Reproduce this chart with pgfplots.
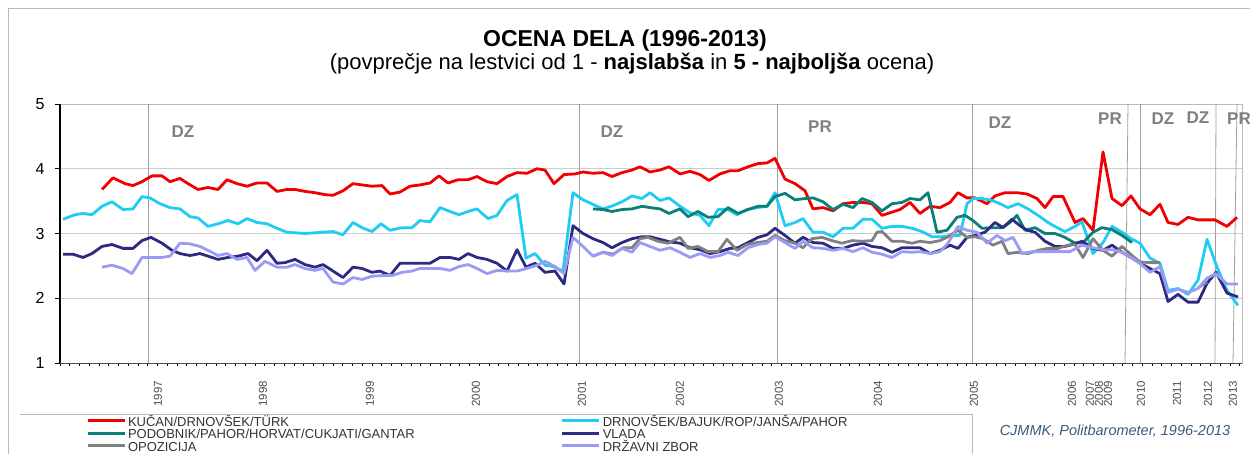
\documentclass[border=0pt]{standalone}
\usepackage{fontspec}
\setmainfont{Liberation Sans}
\usepackage{pgfplots}
\pgfplotsset{compat=1.18}

\definecolor{cRed}{RGB}{240,0,0}
\definecolor{cCyan}{RGB}{30,204,244}
\definecolor{cTeal}{RGB}{10,128,120}
\definecolor{cNavy}{RGB}{45,42,130}
\definecolor{cGray}{RGB}{128,128,128}
\definecolor{cLav}{RGB}{155,155,245}
\definecolor{cLabel}{RGB}{128,128,128}
\definecolor{cCredit}{RGB}{60,90,125}

\begin{document}
\begin{tikzpicture}
% outer frame of the chart area
\draw[gray!55, line width=1pt] (8pt,-10pt) -- (8pt,445pt) -- (1260pt,445pt);

\node[font=\fontsize{23}{26}\selectfont\bfseries] at (625pt,413pt) {OCENA DELA (1996-2013)};
\node[font=\fontsize{22}{25}\selectfont] at (632pt,390pt)
  {(povprečje na lestvici od 1 - \textbf{najslabša} in \textbf{5 - najboljša} ocena)};

\begin{axis}[
  at={(60pt,91pt)}, anchor=south west,
  scale only axis, width=1182pt, height=259pt,
  xmin=60, xmax=1242, ymin=1, ymax=5,
  clip=false,
  unbounded coords=jump,
  ytick={1,2,3,4,5},
  yticklabels={1,2,3,4,5},
  xtick={158,263,370,476,582,680,779,878,974,1072,1090,1099,1108,1141,1177,1208,1233},
  xticklabels={1997,1998,1999,2000,2001,2002,2003,2004,2005,2006,2007,2008,2009,2010,2011,2012,2013},
  minor xtick={60,69.75,...,1242},
  tick pos=left, tick align=outside,
  major tick length=5pt, minor tick length=3pt,
  major x tick style={draw=none},
  tick style={black, line width=0.6pt},
  ymajorgrids, grid style={gray!40, line width=0.8pt},
  axis line style={gray!55, line width=0.8pt},
  yticklabel style={font=\fontsize{16}{16}\selectfont, text=black, xshift=-7pt},
  xticklabel style={rotate=90, anchor=east, font=\fontsize{11.5}{11.5}\selectfont, text=black!70, inner sep=0pt},
  xticklabel shift=13pt,
  legend columns=2,
  legend cell align=left,
  legend image code/.code={\draw[#1] (0pt,3pt) -- (37pt,3pt);},
  legend style={draw=none, fill=none, inner sep=0pt,
    at={(axis description cs:0.022,-0.2095)}, anchor=north west,
    font=\fontsize{13}{13}\selectfont, text=black!80,
    nodes={inner sep=0pt, text height=9pt, text depth=3.5pt},
    /tikz/every odd column/.style={column sep=2pt},
    /tikz/every even column/.style={column sep=0pt}},
  every axis plot/.append style={line width=2.8pt, line join=round},
]
\draw[black, line width=1.8pt] (axis cs:60,1) -- (axis cs:60,5);
\draw[black!70, line width=0.8pt] (axis cs:60,1) -- (axis cs:1242,1);
\draw[gray!75, line width=0.8pt] (axis cs:148,1) -- (axis cs:148,5);
\draw[gray!75, line width=0.8pt] (axis cs:579,1) -- (axis cs:579,5);
\draw[gray!75, line width=0.8pt] (axis cs:777,1) -- (axis cs:777,5);
\draw[gray!75, line width=0.8pt] (axis cs:972,1) -- (axis cs:972,5);
\draw[gray!75, line width=0.8pt] (axis cs:1125,1) -- (axis cs:1128,5);
\draw[gray!75, line width=0.8pt] (axis cs:1140,1) -- (axis cs:1140,5);
\draw[gray!75, line width=0.8pt] (axis cs:1215,1) -- (axis cs:1216,5);
\draw[gray!75, line width=0.8pt] (axis cs:1233,1) -- (axis cs:1237,5);

% KUCAN/DRNOVSEK/TURK
\addplot[cRed] coordinates {
(102,3.68) (113,3.86) (125,3.77) (133,3.74) (142,3.80) (152,3.89) (162,3.89) (170,3.80)
(180,3.85) (188,3.77) (198,3.68) (208,3.71) (218,3.68) (227,3.83) (237,3.77) (247,3.73)
(257,3.78) (267,3.78) (277,3.65) (287,3.68) (295,3.68) (305,3.65) (315,3.63) (325,3.60)
(333,3.59) (343,3.66) (353,3.77) (362,3.75) (372,3.73) (382,3.74) (390,3.61) (400,3.64)
(410,3.73) (420,3.75) (430,3.78) (439,3.89) (448,3.78) (458,3.83) (468,3.83) (477,3.88)
(487,3.80) (497,3.77) (507,3.88) (517,3.94) (527,3.93) (537,4.00) (545,3.98) (554,3.77)
(564,3.91) (575,3.92) (583,3.95) (593,3.93) (603,3.94) (612,3.88) (622,3.94) (632,3.98)
(640,4.03) (650,3.95) (660,3.98) (669,4.03) (680,3.92) (690,3.96) (700,3.91) (709,3.82)
(720,3.92) (730,3.97) (738,3.97) (748,4.03) (758,4.08) (767,4.09) (775,4.16) (785,3.84)
(795,3.77) (805,3.66) (813,3.38) (823,3.40) (833,3.35) (843,3.46) (853,3.48) (863,3.48)
(872,3.46) (882,3.28) (892,3.33) (900,3.37) (910,3.48) (920,3.31) (930,3.42) (940,3.40)
(950,3.48) (958,3.63) (967,3.55) (975,3.55) (987,3.46) (995,3.58) (1005,3.63) (1017,3.63)
(1027,3.61) (1037,3.54) (1045,3.40) (1053,3.57) (1063,3.57) (1075,3.17) (1083,3.23) (1093,3.05)
(1103,4.26) (1112,3.54) (1122,3.43) (1131,3.58) (1140,3.38) (1150,3.29) (1160,3.45) (1168,3.17)
(1178,3.14) (1188,3.25) (1198,3.21) (1207,3.21) (1215,3.21) (1227,3.11) (1237,3.25)};
\addlegendentry{\makebox[433pt][l]{KUČAN/DRNOVŠEK/TÜRK}}

% DRNOVSEK/BAJUK/ROP/JANSA/PAHOR
\addplot[cCyan] coordinates {
(63,3.22) (75,3.29) (83,3.31) (92,3.29) (102,3.42) (112,3.49) (123,3.37) (133,3.38)
(142,3.57) (150,3.55) (160,3.46) (170,3.40) (180,3.38) (190,3.26) (198,3.24) (208,3.11)
(218,3.15) (228,3.20) (238,3.15) (247,3.23) (257,3.17) (267,3.15) (277,3.08) (287,3.02)
(305,3.00) (323,3.02) (333,3.03) (343,2.98) (353,3.17) (362,3.09) (372,3.03) (381,3.15)
(390,3.05) (402,3.09) (412,3.09) (420,3.20) (430,3.18) (440,3.40) (450,3.34) (459,3.29)
(468,3.34) (477,3.38) (488,3.23) (497,3.28) (507,3.51) (517,3.60) (526,2.62) (535,2.69)
(545,2.51) (553,2.49) (563,2.42) (573,3.63) (583,3.52) (593,3.45) (603,3.38) (613,3.43)
(622,3.49) (632,3.58) (642,3.54) (650,3.63) (660,3.51) (669,3.55) (680,3.42) (690,3.32)
(700,3.28) (709,3.12) (718,3.37) (728,3.37) (737,3.29) (747,3.37) (757,3.40) (767,3.42)
(775,3.63) (785,3.12) (795,3.17) (803,3.23) (813,3.02) (823,3.02) (833,2.95) (843,3.08)
(853,3.08) (863,3.22) (872,3.22) (882,3.08) (892,3.11) (902,3.11) (912,3.08) (922,3.03)
(932,2.95) (942,2.95) (952,2.97) (960,2.97) (967,3.46) (973,3.54) (982,3.54) (992,3.51)
(1000,3.46) (1008,3.40) (1018,3.46) (1028,3.38) (1038,3.28) (1048,3.17) (1057,3.09) (1065,3.03)
(1075,3.11) (1082,3.18) (1093,2.69) (1103,2.86) (1112,3.11) (1122,3.02) (1131,2.92) (1140,2.85)
(1150,2.62) (1160,2.54) (1168,2.12) (1178,2.15) (1188,2.06) (1198,2.28) (1207,2.91) (1217,2.48)
(1227,2.12) (1238,1.89)};
\addlegendentry{DRNOVŠEK/BAJUK/ROP/JANŠA/PAHOR}

% PODOBNIK/PAHOR/HORVAT/CUKJATI/GANTAR
\addplot[cTeal] coordinates {
(593,3.38) (603,3.37) (612,3.34) (622,3.37) (632,3.38) (642,3.42) (650,3.40) (660,3.38)
(669,3.31) (680,3.38) (688,3.26) (698,3.34) (708,3.25) (718,3.26) (728,3.40) (738,3.31)
(748,3.37) (758,3.42) (767,3.42) (775,3.57) (785,3.62) (795,3.52) (805,3.54) (813,3.55)
(823,3.49) (833,3.37) (843,3.45) (853,3.40) (862,3.54) (872,3.48) (882,3.35) (892,3.46)
(902,3.48) (910,3.54) (920,3.52) (928,3.63) (937,3.02) (947,3.05) (957,3.25) (965,3.28)
(973,3.20) (982,3.08) (992,3.09) (1002,3.09) (1010,3.17) (1017,3.28) (1025,3.05) (1035,3.09)
(1045,3.00) (1055,3.00) (1065,2.94) (1075,2.85) (1083,2.86) (1093,3.02) (1102,3.09) (1112,3.06)
(1122,2.97) (1132,2.86)};
\addlegendentry{\makebox[433pt][l]{PODOBNIK/PAHOR/HORVAT/CUKJATI/GANTAR}}

% VLADA
\addplot[cNavy] coordinates {
(63,2.68) (73,2.68) (83,2.63) (92,2.69) (102,2.80) (112,2.83) (123,2.77) (133,2.77)
(142,2.89) (151,2.94) (162,2.85) (172,2.74) (180,2.69) (190,2.66) (200,2.69) (208,2.65)
(218,2.60) (228,2.63) (238,2.65) (248,2.69) (257,2.58) (267,2.74) (277,2.54) (285,2.55)
(295,2.60) (305,2.52) (315,2.48) (323,2.52) (333,2.42) (343,2.32) (353,2.48) (362,2.46)
(372,2.40) (380,2.42) (390,2.35) (400,2.54) (410,2.54) (420,2.54) (430,2.54) (440,2.63)
(450,2.63) (459,2.60) (468,2.69) (477,2.63) (487,2.60) (497,2.54) (507,2.42) (517,2.75)
(526,2.48) (535,2.54) (545,2.40) (555,2.42) (564,2.22) (573,3.12) (583,3.00) (593,2.92)
(603,2.86) (612,2.78) (622,2.86) (632,2.92) (642,2.95) (650,2.95) (660,2.91) (670,2.87)
(680,2.85) (690,2.78) (700,2.75) (710,2.69) (720,2.72) (730,2.77) (738,2.78) (748,2.86)
(758,2.94) (767,2.98) (775,3.08) (785,2.97) (795,2.85) (803,2.94) (813,2.86) (823,2.85)
(833,2.77) (843,2.77) (853,2.82) (863,2.85) (872,2.80) (882,2.78) (892,2.71) (902,2.78)
(912,2.78) (920,2.78) (930,2.69) (940,2.74) (950,2.82) (958,2.77) (967,2.94) (975,2.97)
(985,3.02) (995,3.17) (1003,3.09) (1012,3.22) (1020,3.12) (1027,3.05) (1035,3.02) (1045,2.88)
(1055,2.80) (1065,2.80) (1072,2.83) (1082,2.88) (1093,2.77) (1103,2.74) (1112,2.82) (1122,2.71)
(1132,2.62) (1140,2.54) (1150,2.46) (1160,2.38) (1168,1.95) (1178,2.06) (1188,1.94) (1198,1.94)
(1207,2.23) (1216,2.40) (1227,2.08) (1238,2.02)};
\addlegendentry{VLADA}

% OPOZICIJA
\addplot[cGray] coordinates {
(593,2.65) (603,2.71) (613,2.68) (623,2.78) (632,2.78) (640,2.92) (648,2.94) (658,2.88)
(668,2.85) (680,2.94) (688,2.77) (698,2.80) (708,2.72) (718,2.72) (727,2.91) (737,2.74)
(747,2.83) (757,2.86) (767,2.88) (775,2.97) (785,2.89) (795,2.85) (803,2.78) (812,2.92)
(822,2.94) (832,2.89) (842,2.85) (852,2.89) (862,2.88) (872,2.89) (877,3.02) (882,3.03)
(892,2.88) (902,2.88) (912,2.85) (920,2.88) (930,2.86) (940,2.89) (948,2.95) (958,3.05)
(967,2.94) (975,2.95) (983,2.92) (993,2.82) (1002,2.88) (1008,2.69) (1018,2.71) (1028,2.69)
(1038,2.74) (1048,2.77) (1058,2.77) (1068,2.82) (1075,2.83) (1083,2.63) (1093,2.92) (1103,2.74)
(1112,2.65) (1122,2.80) (1132,2.66) (1140,2.56) (1150,2.55) (1160,2.55) (1165,nan)
(1198,2.16) (1207,2.25)};
\addlegendentry{\makebox[433pt][l]{OPOZICIJA}}

% DRZAVNI ZBOR
\addplot[cLav] coordinates {
(102,2.48) (112,2.51) (123,2.46) (132,2.38) (142,2.63) (152,2.63) (162,2.63) (170,2.65)
(180,2.85) (190,2.84) (200,2.80) (208,2.74) (218,2.66) (227,2.69) (237,2.60) (247,2.63)
(255,2.43) (265,2.57) (277,2.48) (287,2.48) (295,2.52) (305,2.46) (315,2.43) (323,2.46)
(333,2.25) (343,2.22) (353,2.32) (362,2.29) (372,2.34) (382,2.35) (392,2.35) (402,2.40)
(412,2.42) (420,2.46) (430,2.46) (440,2.46) (450,2.43) (459,2.49) (468,2.52) (477,2.46)
(487,2.38) (497,2.43) (507,2.42) (517,2.42) (527,2.46) (537,2.51) (545,2.57) (555,2.49)
(564,2.38) (573,2.94) (583,2.80) (593,2.65) (603,2.71) (612,2.66) (622,2.77) (632,2.71)
(640,2.86) (650,2.80) (660,2.74) (670,2.78) (680,2.71) (690,2.63) (700,2.69) (710,2.63)
(720,2.66) (728,2.71) (738,2.66) (748,2.78) (758,2.83) (767,2.85) (775,2.95) (785,2.86)
(795,2.77) (803,2.88) (813,2.78) (823,2.77) (833,2.74) (843,2.77) (853,2.72) (863,2.78)
(872,2.71) (882,2.68) (892,2.63) (902,2.72) (912,2.71) (920,2.72) (930,2.69) (940,2.72)
(948,2.85) (958,3.11) (967,3.05) (977,3.02) (987,2.85) (997,2.97) (1005,2.89) (1013,2.94)
(1022,2.69) (1032,2.72) (1042,2.72) (1052,2.72) (1062,2.72) (1070,2.72) (1082,2.82) (1093,2.78)
(1103,2.75) (1112,2.75) (1122,2.71) (1132,2.62) (1140,2.54) (1150,2.40) (1160,2.49) (1168,2.09)
(1178,2.14) (1188,2.09) (1198,2.15) (1207,2.31) (1216,2.38) (1227,2.22) (1238,2.22)};
\addlegendentry{DRŽAVNI ZBOR}
\end{axis}

% election labels
\begin{scope}[every node/.style={font=\fontsize{17}{20}\selectfont\bfseries, text=cLabel}]
\node at (183pt,322pt) {DZ};
\node at (612pt,322pt) {DZ};
\node at (820pt,327pt) {PR};
\node at (1000pt,331pt) {DZ};
\node at (1110pt,335pt) {PR};
\node at (1163pt,335pt) {DZ};
\node at (1198pt,336pt) {DZ};
\node at (1239pt,335pt) {PR};
\end{scope}

% legend frame and source
\draw[gray!55, line width=0.8pt] (20pt,40pt) -- (972pt,40pt) -- (972pt,-10pt);
\node[font=\fontsize{14.5}{16}\selectfont\itshape, text=cCredit] at (1115pt,23pt) {CJMMK, Politbarometer, 1996-2013};

\pgfresetboundingbox
\useasboundingbox (0pt,0pt) rectangle (1250pt,454pt);
\end{tikzpicture}
\end{document}
